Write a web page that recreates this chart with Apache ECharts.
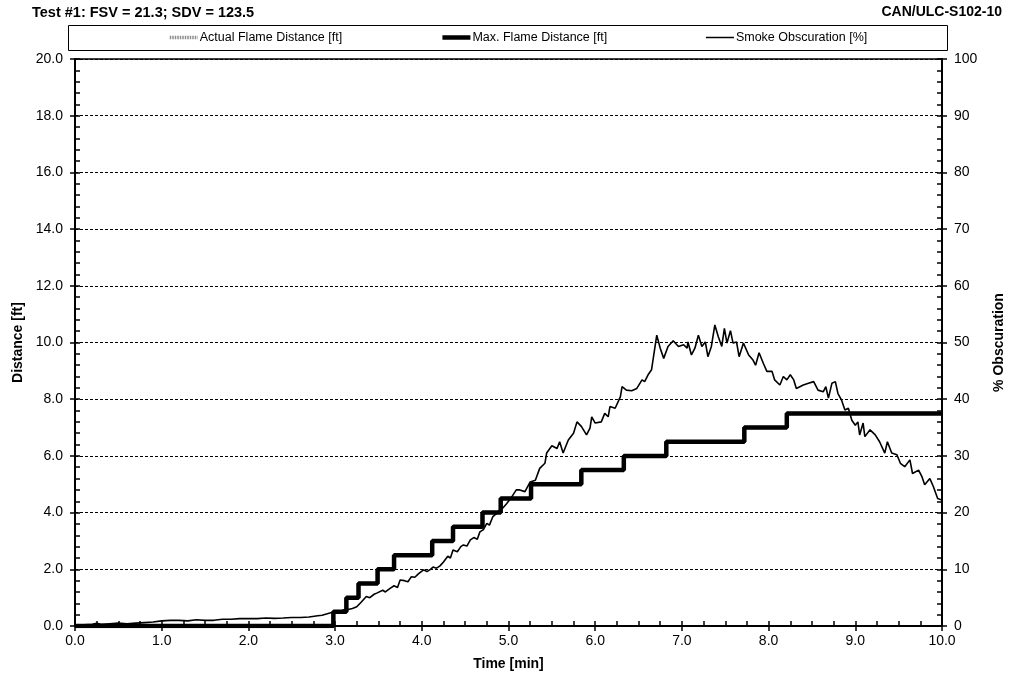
<!DOCTYPE html>
<html>
<head>
<meta charset="utf-8">
<title>Test #1 flame spread / smoke</title>
<script src="https://cdn.jsdelivr.net/npm/echarts@6/dist/echarts.min.js"></script>
<style>
  html, body { margin: 0; padding: 0; background: #fff; }
  #chart { width: 1010px; height: 686px; }
</style>
</head>
<body>
<div id="chart"></div>
<script>
// max flame distance (time in min, distance in ft)
var flameTime = [0, 2.98, 3.13, 3.27, 3.49, 3.68, 4.12, 4.36, 4.70, 4.91, 5.26, 5.84, 6.33, 6.82, 7.72, 8.21, 10.0];
var flameDist = [0, 0.5, 1.0, 1.5, 2.0, 2.5, 3.0, 3.5, 4.0, 4.5, 5.0, 5.5, 6.0, 6.5, 7.0, 7.5, 7.5];

// smoke obscuration trace (time in min, %)
var smokeTime = [
  0, 0.1, 0.2, 0.25, 0.3, 0.4, 0.5, 0.6, 0.7, 0.8, 0.9, 1.0, 1.1, 1.2, 1.3, 1.4, 1.5, 1.6, 1.7, 1.8,
  1.9, 2.0, 2.1, 2.2, 2.3, 2.4, 2.5, 2.6, 2.7, 2.8, 2.85, 2.96,
  3.02, 3.09, 3.15, 3.2, 3.25, 3.3, 3.36, 3.4, 3.45, 3.48, 3.55, 3.58, 3.63, 3.68, 3.72, 3.75, 3.8, 3.84,
  3.88, 3.92, 3.96, 4.02, 4.06, 4.1, 4.13, 4.17, 4.21, 4.25, 4.3, 4.33, 4.36, 4.41, 4.45, 4.48, 4.52, 4.56,
  4.6, 4.64, 4.67, 4.71, 4.75, 4.78, 4.82, 4.86, 4.9, 4.94, 4.98, 5.03, 5.09,
  5.13, 5.19, 5.25, 5.31, 5.36, 5.42, 5.44, 5.50, 5.56, 5.59, 5.63, 5.69, 5.75, 5.79, 5.84, 5.90, 5.94, 5.96,
  6.00, 6.07, 6.11, 6.15, 6.17, 6.23, 6.29, 6.31, 6.36, 6.42, 6.48, 6.54, 6.57, 6.61, 6.65, 6.71, 6.75, 6.79,
  6.84, 6.90, 6.96, 7.02, 7.06, 7.07, 7.11, 7.15, 7.19, 7.23, 7.27, 7.30, 7.34, 7.38, 7.42, 7.46, 7.49, 7.52,
  7.56, 7.59, 7.63, 7.66, 7.71, 7.77, 7.82, 7.85, 7.89, 7.94, 7.98, 8.04, 8.07, 8.13, 8.17, 8.21, 8.25, 8.29,
  8.32, 8.40, 8.46, 8.52, 8.57, 8.63, 8.66, 8.69, 8.73, 8.77, 8.80, 8.84, 8.88, 8.92, 8.96, 9.00, 9.03, 9.05,
  9.09, 9.11, 9.17, 9.23, 9.28, 9.34, 9.37, 9.42, 9.48, 9.52, 9.57, 9.63, 9.66, 9.73, 9.77, 9.80, 9.86, 9.90,
  9.95, 10.0
];
var smokePct = [
  0.0, 0.2, 0.3, 0.5, 0.3, 0.4, 0.5, 0.4, 0.5, 0.6, 0.7, 0.9, 1.0, 1.0, 0.9, 1.1, 1.0, 1.0, 1.2, 1.2,
  1.3, 1.3, 1.3, 1.4, 1.35, 1.4, 1.5, 1.5, 1.6, 1.8, 1.9, 2.4,
  2.3, 2.8, 2.9, 3.1, 3.4, 4.2, 5.2, 5.0, 5.6, 5.8, 6.3, 6.0, 6.6, 7.1, 6.8, 8.1, 8.0, 7.8,
  8.7, 8.6, 9.2, 9.9, 9.6, 10.0, 10.4, 10.2, 10.6, 11.3, 12.3, 12.0, 13.4, 13.1, 14.0, 14.3, 14.1, 15.2,
  15.6, 15.3, 16.6, 17.0, 18.1, 17.8, 19.3, 19.8, 20.5, 20.9, 21.6, 22.6, 24.0,
  24.0, 23.7, 25.4, 25.7, 27.8, 28.7, 30.5, 31.8, 31.3, 32.5, 30.5, 32.8, 34.0, 36.0, 35.2, 33.7, 34.9, 36.9,
  35.8, 36.0, 37.5, 36.9, 38.7, 38.4, 40.4, 42.2, 41.6, 41.5, 41.9, 43.4, 43.1, 44.3, 45.2, 51.3, 49.0, 47.2,
  49.3, 50.3, 49.3, 49.6, 49.0, 50.1, 47.8, 49.0, 51.3, 49.3, 50.1, 47.5, 49.3, 53.1, 51.0, 49.3, 52.5, 49.9,
  52.1, 49.9, 50.1, 47.5, 49.9, 47.8, 46.9, 46.0, 48.2, 46.3, 44.9, 44.9, 43.4, 42.5, 44.0, 43.4, 44.3, 43.4,
  41.9, 42.5, 42.8, 43.1, 41.6, 41.3, 42.2, 40.2, 42.8, 43.1, 41.0, 39.9, 38.1, 38.4, 36.3, 35.4, 36.0, 33.7,
  35.8, 33.4, 34.6, 33.7, 32.5, 30.5, 32.5, 30.5, 30.2, 28.7, 28.1, 29.3, 26.9, 27.5, 26.3, 24.9, 26.0, 24.6,
  22.5, 22.2
];

var distTicks = [0, 20, 2];     // min, max, interval (ft)
var pctTicks = [0, 100, 10];    // min, max, interval (%)
var timeTicks = [0, 10, 1];     // min, max, interval (min)

var font = '"Liberation Sans", Arial, sans-serif';

function pairs(xs, ys) {
  var out = [];
  for (var i = 0; i < xs.length; i++) out.push([xs[i], ys[i]]);
  return out;
}

var flameData = pairs(flameTime, flameDist);
var smokeData = pairs(smokeTime, smokePct);

var chart = echarts.init(document.getElementById('chart'), null, { renderer: 'canvas' });

chart.setOption({
  backgroundColor: '#fff',
  animation: false,
  title: [
    {
      text: 'Test #1: FSV = 21.3; SDV = 123.5',
      left: 32, top: 5, padding: 0,
      textStyle: { fontFamily: font, fontSize: 14.5, fontWeight: 'bold', color: '#000' }
    },
    {
      text: 'CAN/ULC-S102-10',
      right: 8, top: 5, padding: 0,
      textStyle: { fontFamily: font, fontSize: 14, fontWeight: 'bold', color: '#000' }
    }
  ],
  graphic: [
    {
      type: 'rect',
      shape: { x: 68.5, y: 25.5, width: 879, height: 25 },
      style: { fill: '#fff', stroke: '#000', lineWidth: 1 },
      z: 0
    }
  ],
  legend: {
    left: 168, top: 31,
    itemGap: 98,
    itemWidth: 28, itemHeight: 8,
    padding: 0,
    itemStyle: { opacity: 0 },
    textStyle: { fontFamily: font, fontSize: 12.5, color: '#000', padding: [0, 0, 0, -3] },
    data: [
      { name: 'Actual Flame Distance [ft]', lineStyle: { width: 3.5 } },
      { name: 'Max. Flame Distance [ft]', lineStyle: { width: 4.5 } },
      { name: 'Smoke Obscuration [%]', lineStyle: { width: 1.5 } }
    ],
    z: 5
  },
  grid: {
    left: 75, right: 68, top: 59, bottom: 60,
    outerBoundsMode: 'none',
    show: true, borderColor: '#000', borderWidth: 1.5, backgroundColor: '#fff'
  },
  xAxis: [
    {
      type: 'value',
      min: timeTicks[0], max: timeTicks[1], interval: timeTicks[2],
      position: 'bottom',
      name: 'Time [min]', nameLocation: 'middle', nameGap: 31,
      nameTextStyle: { fontFamily: font, fontSize: 14, fontWeight: 'bold', color: '#000' },
      axisLine: { show: true, onZero: false, lineStyle: { color: '#000', width: 2 } },
      axisTick: { show: true, inside: false, length: 5, lineStyle: { color: '#000', width: 1.5 } },
      axisLabel: {
        fontFamily: font, fontSize: 14, color: '#000', margin: 8,
        formatter: function (v) { return v.toFixed(1); }
      },
      splitLine: { show: false }
    },
    {
      // minor ticks every 0.25 min, pointing into the plot
      type: 'value',
      min: 0, max: 10, interval: 0.25,
      position: 'bottom',
      axisLine: { show: false, onZero: false },
      axisTick: { show: true, inside: true, length: 5, lineStyle: { color: '#000', width: 1.5 } },
      axisLabel: { show: false },
      splitLine: { show: false }
    }
  ],
  yAxis: [
    {
      type: 'value',
      min: distTicks[0], max: distTicks[1], interval: distTicks[2],
      position: 'left',
      name: 'Distance [ft]', nameLocation: 'middle', nameGap: 50, nameRotate: 90,
      nameTextStyle: { fontFamily: font, fontSize: 14, fontWeight: 'bold', color: '#000' },
      axisLine: { show: true, onZero: false, lineStyle: { color: '#000', width: 2 } },
      axisTick: { show: true, inside: false, length: 5, lineStyle: { color: '#000', width: 1.5 } },
      axisLabel: {
        fontFamily: font, fontSize: 14, color: '#000', margin: 12,
        formatter: function (v) { return v.toFixed(1); }
      },
      splitLine: { show: true, lineStyle: { color: '#000', width: 1, type: [3, 2] } }
    },
    {
      type: 'value',
      min: pctTicks[0], max: pctTicks[1], interval: pctTicks[2],
      position: 'right',
      name: '% Obscuration', nameLocation: 'middle', nameGap: 50, nameRotate: 90,
      nameTextStyle: { fontFamily: font, fontSize: 14, fontWeight: 'bold', color: '#000' },
      axisLine: { show: true, onZero: false, lineStyle: { color: '#000', width: 2 } },
      axisTick: { show: true, inside: false, length: 5, lineStyle: { color: '#000', width: 1.5 } },
      axisLabel: { fontFamily: font, fontSize: 14, color: '#000', margin: 12 },
      splitLine: { show: false }
    },
    {
      // minor ticks, left side
      type: 'value',
      min: 0, max: 100, interval: 2,
      position: 'left',
      axisLine: { show: false, onZero: false },
      axisTick: { show: true, inside: true, length: 5, lineStyle: { color: '#000', width: 1.5 } },
      axisLabel: { show: false },
      splitLine: { show: false }
    },
    {
      // minor ticks, right side
      type: 'value',
      min: 0, max: 100, interval: 2,
      position: 'right',
      axisLine: { show: false, onZero: false },
      axisTick: { show: true, inside: true, length: 5, lineStyle: { color: '#000', width: 1.5 } },
      axisLabel: { show: false },
      splitLine: { show: false }
    }
  ],
  series: [
    {
      name: 'Actual Flame Distance [ft]',
      type: 'line',
      step: 'end',
      xAxisIndex: 0, yAxisIndex: 0,
      symbol: 'none',
      data: flameData,
      lineStyle: { color: '#8c8c8c', width: 3.5, type: [1.5, 1] },
      itemStyle: { color: '#8c8c8c' },
      z: 2
    },
    {
      name: 'Max. Flame Distance [ft]',
      type: 'line',
      step: 'end',
      xAxisIndex: 0, yAxisIndex: 0,
      symbol: 'none',
      data: flameData,
      lineStyle: { color: '#000', width: 4.5 },
      itemStyle: { color: '#000' },
      z: 3
    },
    {
      name: 'Smoke Obscuration [%]',
      type: 'line',
      xAxisIndex: 0, yAxisIndex: 1,
      symbol: 'none',
      data: smokeData,
      lineStyle: { color: '#000', width: 1.6 },
      itemStyle: { color: '#000' },
      z: 4
    }
  ]
});
</script>
</body>
</html>
